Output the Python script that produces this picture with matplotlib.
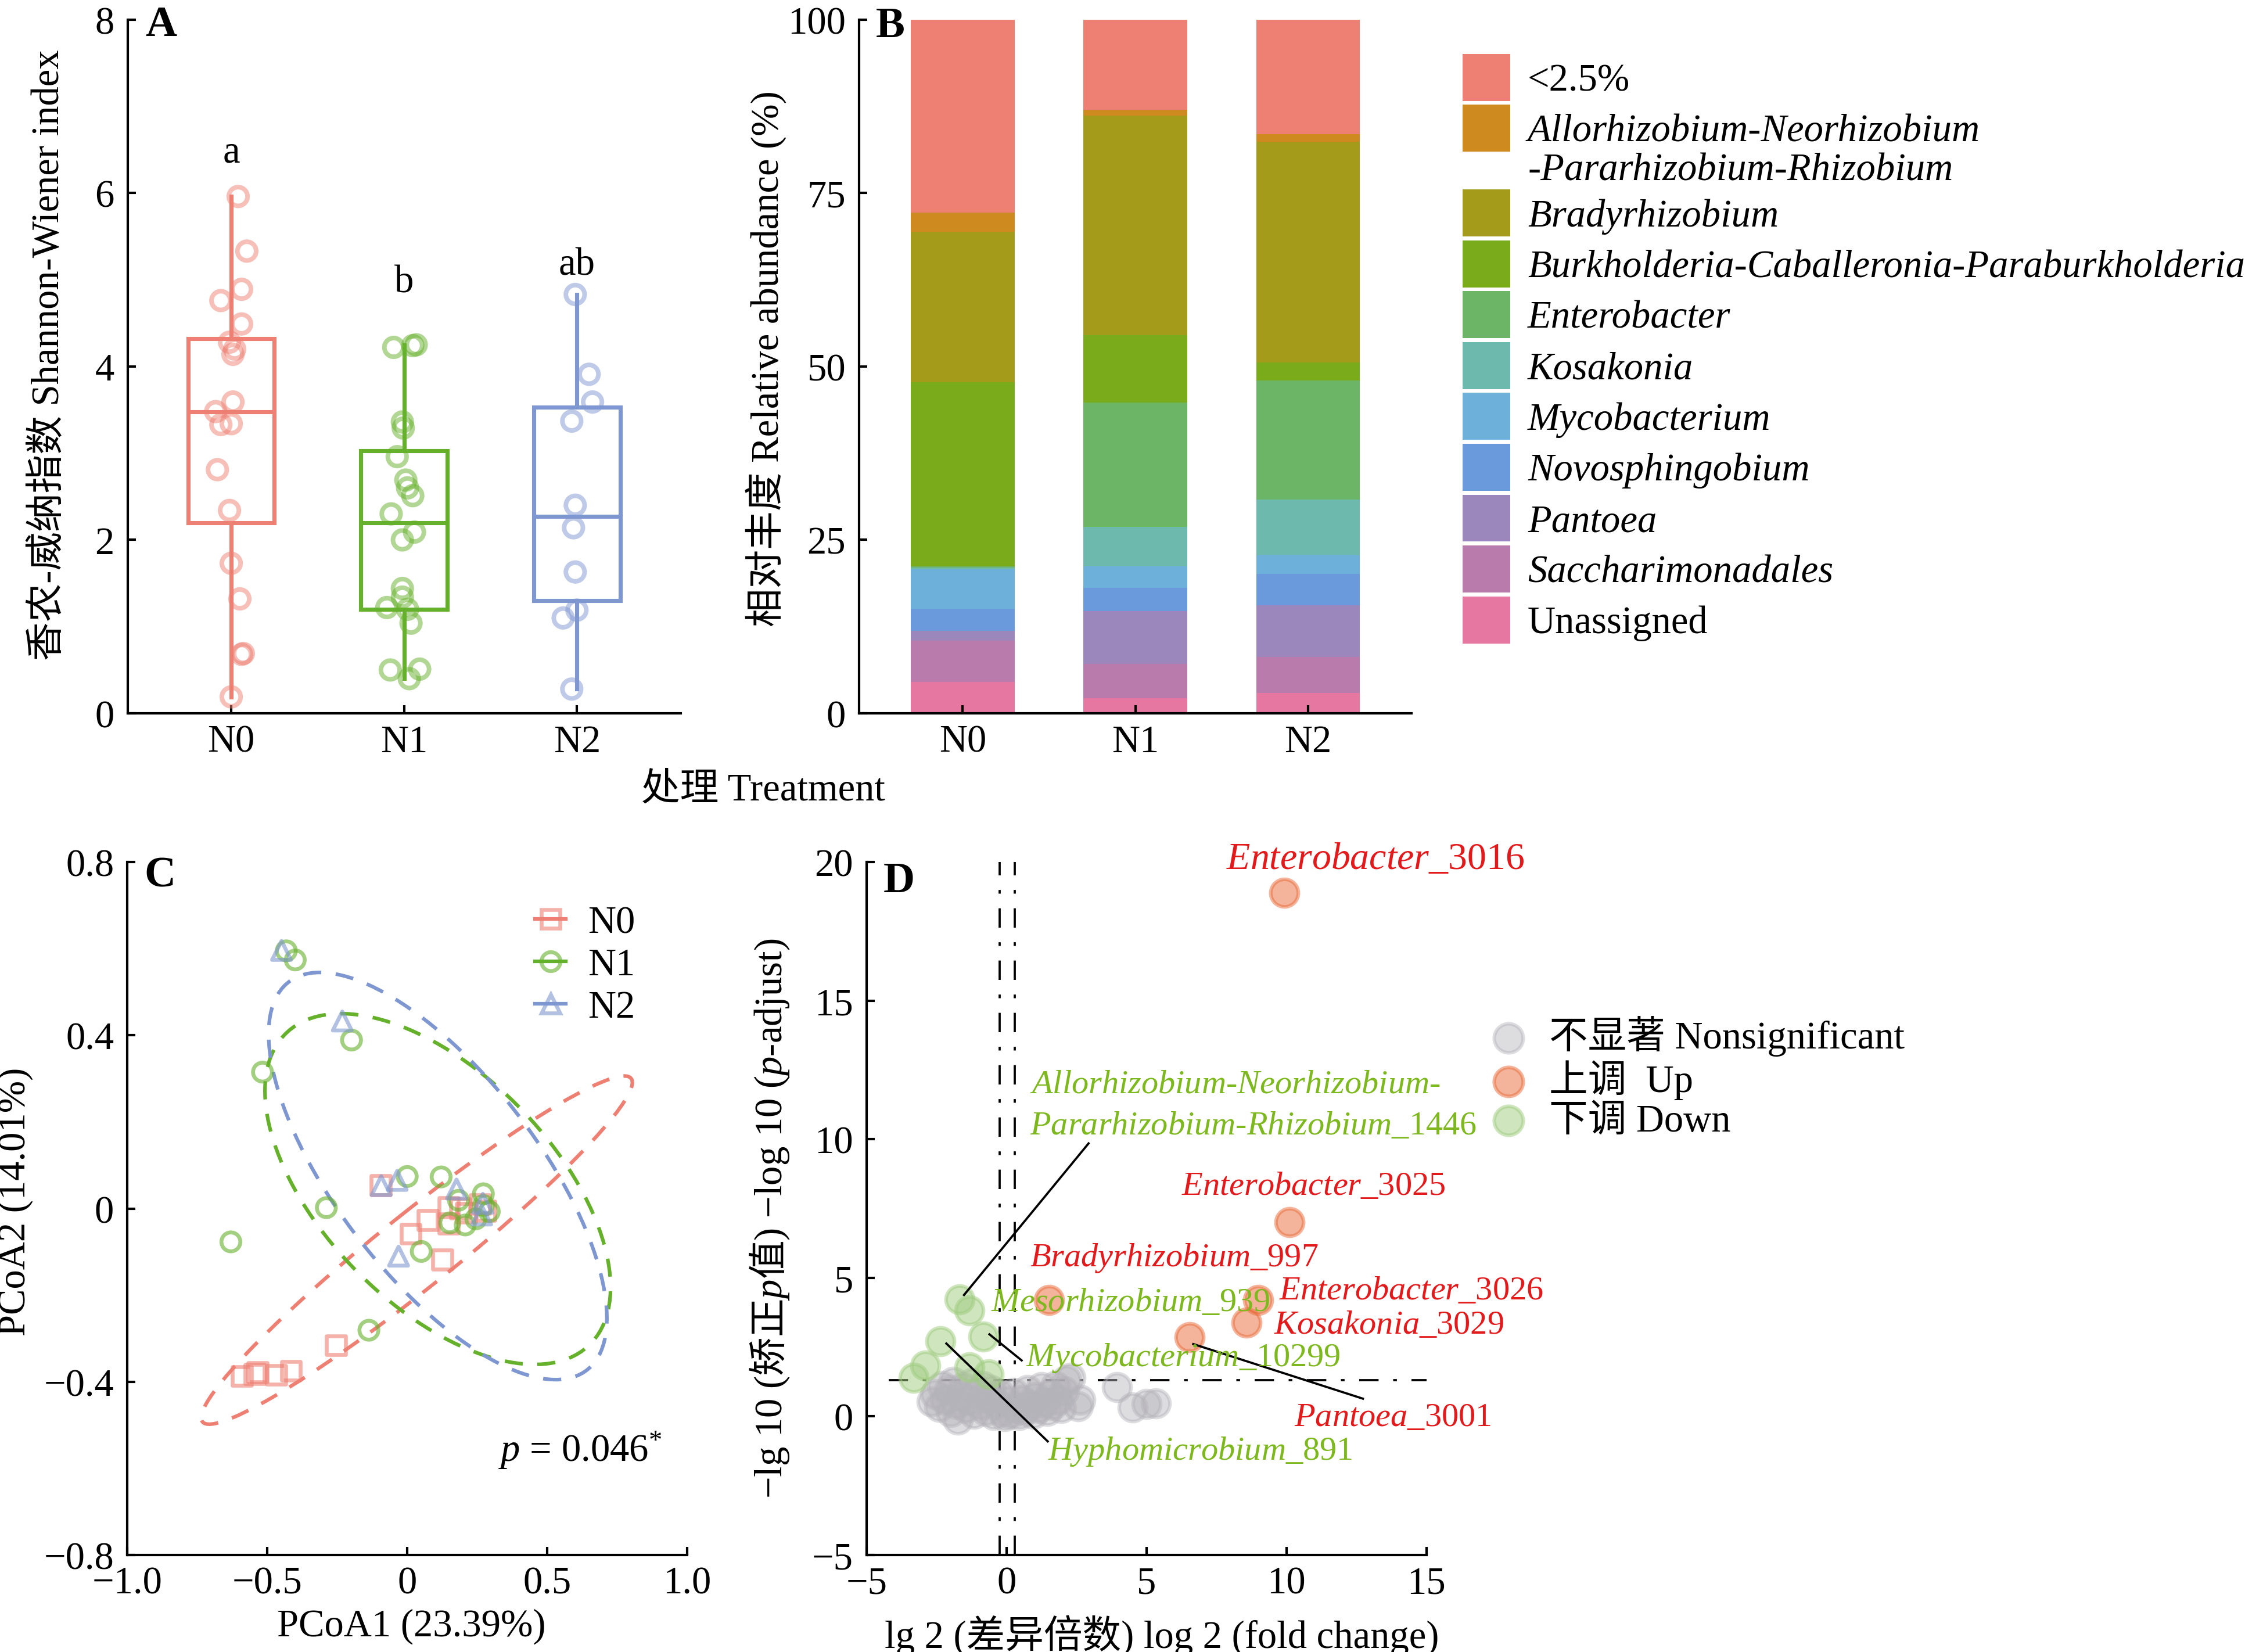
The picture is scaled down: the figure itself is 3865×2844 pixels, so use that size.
import numpy as np
import matplotlib
matplotlib.use('Agg')
import matplotlib.pyplot as plt
from matplotlib.patches import Ellipse, Patch
from matplotlib.lines import Line2D

# Fontes: serifada para o texto latino, CJK como reserva
plt.rcParams['font.family'] = ['Liberation Serif', 'Noto Sans CJK SC']
plt.rcParams['mathtext.fontset'] = 'custom'
plt.rcParams['mathtext.rm'] = 'Liberation Serif'
plt.rcParams['mathtext.it'] = 'Liberation Serif:italic'
plt.rcParams['mathtext.bf'] = 'Liberation Serif:bold'
plt.rcParams['mathtext.sf'] = 'Noto Sans CJK SC'

# ==========================================
# Dados
grupos = ['N0', 'N1', 'N2']
cores = ['#EE8073', '#66B12B', '#7F97D0']

# A: indice de Shannon
box_q1 = [2.20, 1.20, 1.30]
box_med = [3.48, 2.20, 2.27]
box_q3 = [4.32, 3.03, 3.53]
box_lo = [0.19, 0.40, 0.28]
box_hi = [5.96, 4.25, 4.83]
letras = ['a', 'b', 'ab']
letras_y = [6.36, 4.86, 5.06]

shannon_n0 = [5.96, 5.33, 4.89, 4.76, 4.49, 4.28, 4.20, 4.14, 3.59, 3.48,
              3.34, 3.33, 2.81, 2.34, 1.73, 1.32, 0.69, 0.68, 0.19]
jitter_n0 = [0.04, 0.09, 0.06, -0.06, 0.06, -0.01, 0.02, 0.01, 0.01, -0.09,
             0.0, -0.06, -0.08, -0.01, 0.0, 0.05, 0.07, 0.06, 0.0]
shannon_n1 = [4.22, 4.24, 4.25, 3.36, 3.29, 2.96, 2.69, 2.60, 2.51, 2.30,
              2.09, 2.00, 1.44, 1.34, 1.22, 1.20, 1.04, 0.50, 0.51, 0.40]
jitter_n1 = [-0.06, 0.05, 0.07, -0.01, -0.005, -0.04, 0.01, 0.02, 0.05, -0.075,
             0.06, -0.01, -0.01, -0.01, -0.10, 0.02, 0.04, -0.08, 0.09, 0.03]
shannon_n2 = [4.83, 3.91, 3.59, 3.37, 2.40, 2.14, 1.63, 1.19, 1.10, 0.28]
jitter_n2 = [-0.01, 0.07, 0.09, -0.03, -0.01, -0.02, -0.01, 0.0, -0.08, -0.03]

# B: abundancia relativa (%)
generos = ['<2.5%', 'Allorhizobium-Neorhizobium-Pararhizobium-Rhizobium',
           'Bradyrhizobium', 'Burkholderia-Caballeronia-Paraburkholderia',
           'Enterobacter', 'Kosakonia', 'Mycobacterium', 'Novosphingobium',
           'Pantoea', 'Saccharimonadales', 'Unassigned']
cores_gen = ['#EE8073', '#CE8A1E', '#A49B1A', '#7AAB1A', '#6CB567', '#6DB9AE',
             '#6DB0DA', '#6A9ADC', '#9B87BC', '#B87BAC', '#E577A0']
abund_n0 = [27.8, 2.8, 21.7, 26.5, 0.2, 0.2, 5.7, 3.2, 1.4, 6.0, 4.5]
abund_n1 = [13.0, 0.8, 31.7, 9.7, 17.9, 5.7, 3.1, 3.4, 7.6, 4.9, 2.2]
abund_n2 = [16.5, 1.1, 31.8, 2.6, 17.2, 8.0, 2.7, 4.5, 7.5, 5.2, 2.9]
# rotulos da legenda (o nome longo ocupa duas linhas)
legenda_b1 = ['<2.5%', 'Allorhizobium-Neorhizobium']
legenda_b_linha2 = '-Pararhizobium-Rhizobium'
legenda_b2 = generos[2:]

# C: PCoA
pc_n0_x = [-0.59, -0.545, -0.535, -0.468, -0.415, -0.254, -0.095, 0.012, 0.073, 0.125,
           0.148, 0.148, 0.19, 0.21, 0.26, 0.28]
pc_n0_y = [-0.387, -0.382, -0.378, -0.384, -0.375, -0.316, 0.054, -0.058, -0.027, -0.118,
           -0.035, 0.003, 0.0, -0.01, 0.01, -0.005]
pc_n1_x = [-0.432, -0.400, -0.517, -0.199, -0.630, -0.289, 0.0, 0.121, 0.05, -0.137,
           0.183, 0.152, 0.207, 0.272, 0.245, 0.293, 0.272]
pc_n1_y = [0.595, 0.574, 0.315, 0.389, -0.077, 0.002, 0.074, 0.073, -0.099, -0.281,
           0.019, -0.033, -0.038, 0.034, -0.024, -0.007, 0.007]
pc_n2_x = [-0.449, -0.232, -0.093, -0.036, -0.031, 0.176, 0.270, 0.266]
pc_n2_y = [0.596, 0.433, 0.053, 0.065, -0.110, 0.045, 0.012, -0.015]
# elipses: centro e matriz de dispersao (sxx, syy, sxy)
elip_cx = [0.034, 0.109, 0.109]
elip_cy = [-0.096, 0.045, 0.075]
elip_sxx = [0.593, 0.381, 0.365]
elip_syy = [0.1616, 0.164, 0.221]
elip_sxy = [0.298, -0.140, -0.198]

# D: volcano
ns_x = [-2.68, -2.55, -2.40, -2.30, -2.20, -2.05, -1.98, -1.90, -1.80, -1.75,
        -1.65, -1.55, -1.45, -1.35, -1.25, -1.15, -1.05, -0.95, -0.85, -0.75,
        -0.65, -0.55, -0.45, -0.35, -0.25, -0.15, -0.05, 0.05, 0.15, 0.25,
        0.35, 0.45, 0.55, 0.65, 0.75, 0.85, 0.95, 1.05, 1.15, 1.25,
        1.35, 1.45, 1.55, 1.65, 1.75, 1.85, 1.95, 2.05, 2.13, 2.28,
        2.55, 2.64, 3.94, 4.50, 5.00, 5.33]
ns_y = [0.54, 0.80, 0.35, 1.10, 0.60, 0.95, 0.15, 1.25, 0.45, -0.12,
        0.75, 1.05, 0.30, 0.60, 1.20, 0.10, 0.85, 0.40, 1.10, 0.20,
        0.65, 0.95, 0.05, 0.45, 0.80, 0.15, 0.00, 0.55, 0.10, 0.85,
        0.30, 0.05, 0.60, 0.20, 0.95, 0.40, 0.10, 0.70, 0.30, 1.05,
        0.50, 0.20, 0.80, 0.40, 1.10, 0.60, 0.30, 0.90, 1.31, 1.40,
        0.37, 0.60, 1.05, 0.33, 0.45, 0.48]
dn_x = [-1.68, -1.32, -0.82, -2.37, -2.91, -3.32, -1.33, -0.64]
dn_y = [4.22, 3.83, 2.87, 2.72, 1.84, 1.40, 1.77, 1.51]
up_x = [9.91, 10.10, 1.52, 8.98, 8.58, 6.54]
up_y = [18.9, 7.01, 4.21, 4.21, 3.38, 2.86]
corte_fc = [-0.25, 0.29]
corte_p = 1.31

rot_up = [r'$\mathit{Enterobacter}$_3016', r'$\mathit{Enterobacter}$_3025',
          r'$\mathit{Bradyrhizobium}$_997', r'$\mathit{Enterobacter}$_3026',
          r'$\mathit{Kosakonia}$_3029', r'$\mathit{Pantoea}$_3001']
rot_up_x = [7.84, 6.25, 0.83, 9.73, 9.54, 10.28]
rot_up_y = [20.1, 8.31, 5.72, 4.54, 3.30, -0.04]
rot_up_tam = [15.8, 14, 14, 14, 14, 14]
rot_dn = [r'$\mathit{Allorhizobium}$-$\mathit{Neorhizobium}$-',
          r'$\mathit{Pararhizobium}$-$\mathit{Rhizobium}$_1446',
          r'$\mathit{Mesorhizobium}$_939', r'$\mathit{Mycobacterium}$_10299',
          r'$\mathit{Hyphomicrobium}$_891']
rot_dn_x = [0.83, 0.83, -0.55, 0.68, 1.47]
rot_dn_y = [11.98, 10.49, 4.12, 2.13, -1.24]
# linhas de ligacao (x0, y0, x1, y1)
ligacoes = [(-1.52, 4.38, 2.93, 9.85), (-0.61, 2.96, 0.54, 2.02),
            (-2.15, 2.63, 1.47, -0.90), (6.67, 2.61, 12.73, 0.64)]

# ==========================================
fig = plt.figure(figsize=(3865 / 300, 2845 / 300), dpi=300)
ax_a = fig.add_axes([0.0568, 0.568, 0.2464, 0.4198])
ax_b = fig.add_axes([0.3827, 0.568, 0.2460, 0.4198])
ax_c = fig.add_axes([0.0567, 0.0587, 0.2494, 0.4193])
ax_d = fig.add_axes([0.3860, 0.0587, 0.2494, 0.4193])


def estilo(ax):
    for s in ['top', 'right']:
        ax.spines[s].set_visible(False)
    for s in ['left', 'bottom']:
        ax.spines[s].set_linewidth(1.0)
    ax.tick_params(direction='in', length=3.4, width=1.0, labelsize=16)
    ax.tick_params(axis='x', pad=4.5)
    ax.tick_params(axis='y', pad=5.5)


# ---------- A ----------
stats = [dict(med=box_med[i], q1=box_q1[i], q3=box_q3[i], whislo=box_lo[i],
              whishi=box_hi[i], fliers=[]) for i in range(3)]
bp = ax_a.bxp(stats, positions=[1, 2, 3], widths=0.5, showfliers=False, showcaps=False)
for i, c in enumerate(cores):
    bp['boxes'][i].set(color=c, linewidth=1.7, solid_joinstyle='miter')
    bp['medians'][i].set(color=c, linewidth=1.7)
    for w in bp['whiskers'][2 * i:2 * i + 2]:
        w.set(color=c, linewidth=1.7)
for i, (vals, jit) in enumerate([(shannon_n0, jitter_n0), (shannon_n1, jitter_n1),
                                 (shannon_n2, jitter_n2)]):
    ax_a.scatter(np.array(jit) + i + 1, vals, s=60, facecolors='none',
                 edgecolors=cores[i], linewidths=1.9, alpha=0.5, zorder=3)
    ax_a.text(i + 1, letras_y[i], letras[i], ha='center', va='baseline', fontsize=16)
ax_a.set_xlim(0.4, 3.6)
ax_a.set_ylim(0, 8)
ax_a.set_yticks([0, 2, 4, 6, 8])
ax_a.set_xticks([1, 2, 3], grupos)
ax_a.set_ylabel('香农-威纳指数 Shannon-Wiener index', fontsize=16)
ax_a.yaxis.set_label_coords(-0.11, 0.517)
estilo(ax_a)
ax_a.text(0.032, 1.021, 'A', transform=ax_a.transAxes, fontsize=18,
          fontweight='bold', ha='left', va='top')

# ---------- B ----------
abund = np.array([abund_n0, abund_n1, abund_n2])
base = np.zeros(3)
for j in range(len(generos) - 1, -1, -1):
    ax_b.bar([1, 2, 3], abund[:, j], bottom=base, width=0.6, color=cores_gen[j],
             linewidth=0)
    base += abund[:, j]
ax_b.set_xlim(0.4, 3.6)
ax_b.set_ylim(0, 100)
ax_b.set_yticks([0, 25, 50, 75, 100])
ax_b.set_xticks([1, 2, 3], grupos)
ax_b.set_ylabel('相对丰度 Relative abundance (%)', fontsize=16)
ax_b.yaxis.set_label_coords(-0.131, 0.512)
estilo(ax_b)
ax_b.text(0.030, 1.019, 'B', transform=ax_b.transAxes, fontsize=18,
          fontweight='bold', ha='left', va='top')

opc_leg = dict(frameon=False, fontsize=16, handlelength=1.23, handleheight=1.49,
               handletextpad=0.45, labelspacing=0.1, borderpad=0, borderaxespad=0,
               loc='upper left')
leg_b1 = fig.legend([Patch(facecolor=c, edgecolor='none') for c in cores_gen[:2]],
                    legenda_b1, bbox_to_anchor=(0.6515, 0.967), **opc_leg)
leg_b2 = fig.legend([Patch(facecolor=c, edgecolor='none') for c in cores_gen[2:]],
                    legenda_b2, bbox_to_anchor=(0.6515, 0.885), **opc_leg)
for leg in (leg_b1, leg_b2):
    for t in leg.get_texts():
        if t.get_text() not in ('<2.5%', 'Unassigned'):
            t.set_fontstyle('italic')
fig.text(0.6805, 0.8967, legenda_b_linha2, fontsize=16, fontstyle='italic',
         ha='left', va='center')

fig.text(0.34, 0.5216, '处理 Treatment', ha='center', va='center', fontsize=16)

# ---------- C ----------
marcadores = ['s', 'o', '^']
pontos_c = [(pc_n0_x, pc_n0_y), (pc_n1_x, pc_n1_y), (pc_n2_x, pc_n2_y)]
handles_c = []
for i in range(3):
    m = np.array([[elip_sxx[i], elip_sxy[i]], [elip_sxy[i], elip_syy[i]]])
    vals, vecs = np.linalg.eigh(m)
    ang = np.degrees(np.arctan2(vecs[1, 1], vecs[0, 1]))
    ax_c.add_patch(Ellipse((elip_cx[i], elip_cy[i]), 2 * np.sqrt(vals[1]),
                           2 * np.sqrt(vals[0]), angle=ang, fill=False,
                           edgecolor=cores[i], linewidth=1.5, linestyle=(0, (5, 4))))
for i in range(3):
    ax_c.scatter(pontos_c[i][0], pontos_c[i][1], s=61, marker=marcadores[i],
                 facecolors='none', edgecolors=cores[i], linewidths=1.6, alpha=0.6,
                 zorder=3)
    rgba = matplotlib.colors.to_rgba(cores[i], 0.6)
    handles_c.append(Line2D([0], [0], color=cores[i], lw=1.5, marker=marcadores[i],
                            markersize=7.8, markerfacecolor='none',
                            markeredgecolor=rgba, markeredgewidth=1.6))
ax_c.legend(handles_c, grupos, loc='center left', bbox_to_anchor=(0.728, 0.851),
            frameon=False, fontsize=16, handlelength=0.8, handletextpad=0.57,
            labelspacing=0.18, borderpad=0, borderaxespad=0)
ax_c.text(0.91, -0.557, r'$\mathit{p}$ = 0.046$^{*}$', ha='right', va='center',
          fontsize=16)
ax_c.set_xlim(-1, 1)
ax_c.set_ylim(-0.8, 0.8)
ax_c.set_xticks([-1.0, -0.5, 0, 0.5, 1.0], ['\u22121.0', '\u22120.5', '0', '0.5', '1.0'])
ax_c.set_yticks([-0.8, -0.4, 0, 0.4, 0.8], ['\u22120.8', '\u22120.4', '0', '0.4', '0.8'])
ax_c.set_xlabel('PCoA1 (23.39%)', fontsize=16)
ax_c.set_ylabel('PCoA2 (14.01%)', fontsize=16)
ax_c.xaxis.set_label_coords(0.507, -0.077)
ax_c.yaxis.set_label_coords(-0.168, 0.511)
estilo(ax_c)
ax_c.text(0.030, 1.009, 'C', transform=ax_c.transAxes, fontsize=18,
          fontweight='bold', ha='left', va='top')

# ---------- D ----------
tracejado = (0, (8.9, 6.7, 1.7, 6.7))
for xv in corte_fc:
    ax_d.axvline(xv, color='black', lw=0.9, linestyle=tracejado, zorder=1)
ax_d.axhline(corte_p, xmin=0.04, color='black', lw=0.9, linestyle=tracejado, zorder=1)
sc_ns = ax_d.scatter(ns_x, ns_y, s=130, c='#B5B3BA', edgecolors='#B5B3BA',
                     linewidths=1.5, alpha=0.45, zorder=2)
sc_dn = ax_d.scatter(dn_x, dn_y, s=130, c='#9FCD7F', edgecolors='#9FCD7F',
                     linewidths=1.5, alpha=0.5, zorder=3)
sc_up = ax_d.scatter(up_x, up_y, s=130, c='#E96B39', edgecolors='#E96B39',
                     linewidths=1.5, alpha=0.5, zorder=3)
for x0, y0, x1, y1 in ligacoes:
    ax_d.plot([x0, x1], [y0, y1], color='black', lw=0.9, zorder=4)
for t, x, y, fs in zip(rot_up, rot_up_x, rot_up_y, rot_up_tam):
    ax_d.text(x, y, t, color='#E31A1C', fontsize=fs, ha='left', va='center', zorder=5)
for t, x, y in zip(rot_dn, rot_dn_x, rot_dn_y):
    ax_d.text(x, y, t, color='#7DB81E', fontsize=14, ha='left', va='center', zorder=5)
ax_d.set_xlim(-5, 15)
ax_d.set_ylim(-5, 20)
ax_d.set_xticks([-5, 0, 5, 10, 15], ['\u22125', '0', '5', '10', '15'])
ax_d.set_yticks([-5, 0, 5, 10, 15, 20], ['\u22125', '0', '5', '10', '15', '20'])
ax_d.set_xlabel('lg 2 (差异倍数) log 2 (fold change)', fontsize=16)
ax_d.set_ylabel('\u2212lg 10 ($\\mathsf{矫正}\\mathit{p}\\mathsf{值}$) '
                '\u2212log 10 ($\\mathit{p}$-adjust)', fontsize=16)
ax_d.xaxis.set_label_coords(0.527, -0.0855)
ax_d.yaxis.set_label_coords(-0.135, 0.486)
estilo(ax_d)
ax_d.text(0.030, 1.001, 'D', transform=ax_d.transAxes, fontsize=18,
          fontweight='bold', ha='left', va='top')
ax_d.legend([sc_ns, sc_up, sc_dn], ['不显著 Nonsignificant', '上调  Up', '下调 Down'],
            loc='center left', bbox_to_anchor=(0.6634, 0.3478),
            bbox_transform=fig.transFigure, frameon=False, fontsize=16,
            handlelength=1.0, handletextpad=0.55, labelspacing=0.1, borderpad=0,
            borderaxespad=0, scatterpoints=1, markerscale=1.05)

fig.savefig('out.png', dpi=300)
